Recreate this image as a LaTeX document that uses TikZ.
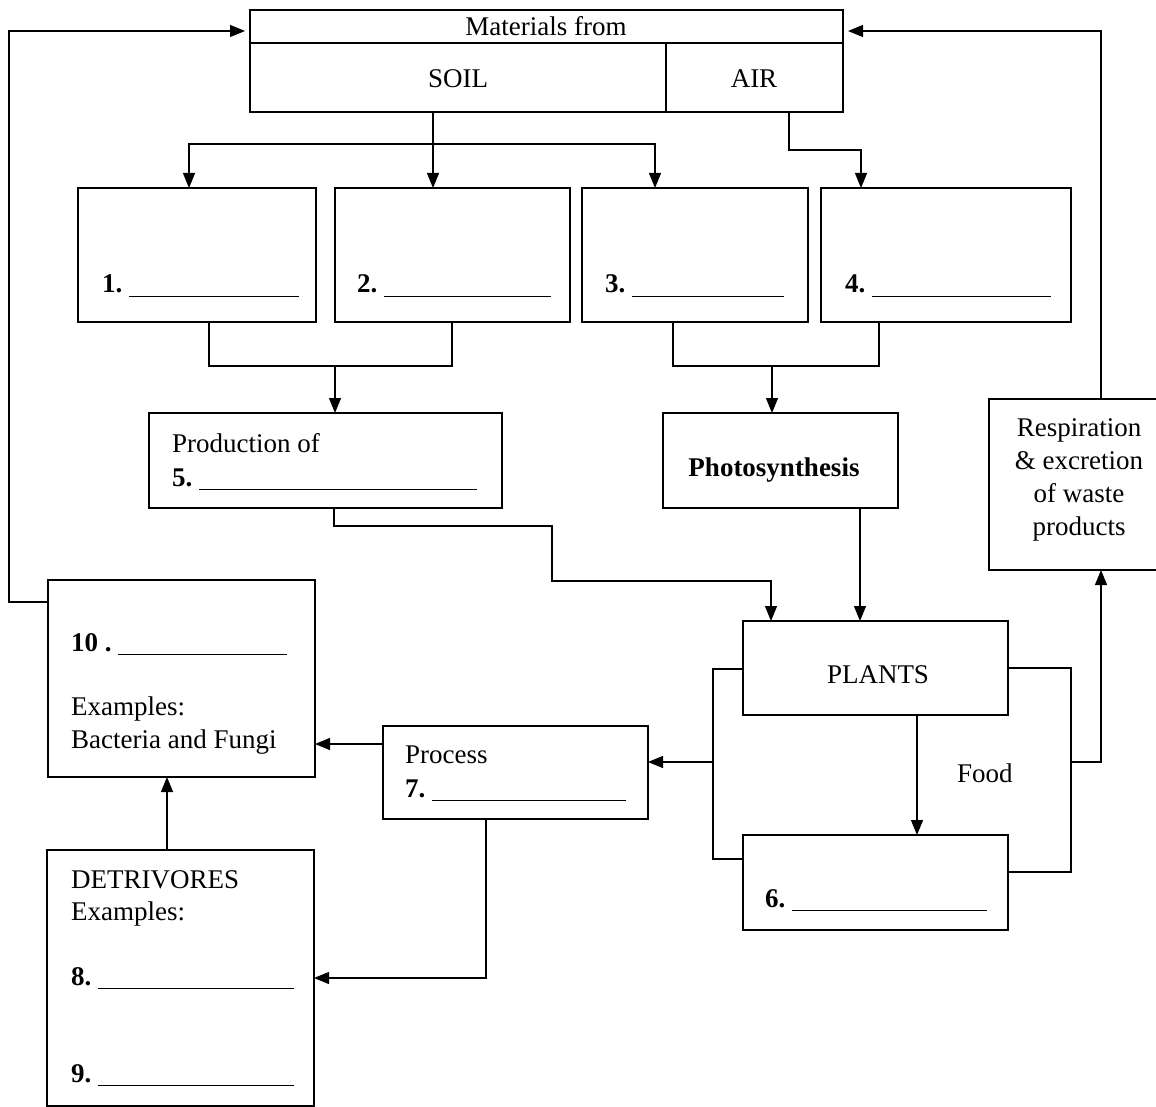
\documentclass[tikz,border=0pt]{standalone}
\usepackage{fontspec}
\setmainfont{Liberation Serif}
\usetikzlibrary{arrows.meta}
\newcommand\blankline[1]{\rule[-4pt]{#1pt}{1.3pt}}
\begin{document}
\begin{tikzpicture}[x=1pt,y=-1pt,
  box/.style={draw, line width=1.3pt, inner sep=0pt, outer sep=0pt, anchor=north west},
  con/.style={line width=1.2pt},
  arr/.style={con, -{Triangle[length=15pt,width=12pt]}},
  txt/.style={inner sep=0pt, anchor=base west, font=\fontsize{27}{33}\selectfont},
  ctxt/.style={txt, anchor=base},
]
\useasboundingbox (0,0) rectangle (1156,1107);
\fill[white] (0,0) rectangle (1156,1107);

% boxes
\node[box, minimum width=593pt, minimum height=102pt] (top) at (250,10) {};
\node[box, minimum width=238pt, minimum height=134pt] (b1) at (78,188) {};
\node[box, minimum width=235pt, minimum height=134pt] (b2) at (335,188) {};
\node[box, minimum width=226pt, minimum height=134pt] (b3) at (582,188) {};
\node[box, minimum width=250pt, minimum height=134pt] (b4) at (821,188) {};
\node[box, minimum width=353pt, minimum height=95pt] (b5) at (149,413) {};
\node[box, minimum width=235pt, minimum height=95pt] (photo) at (663,413) {};
\node[box, minimum width=200pt, minimum height=171pt] (resp) at (989,399) {};
\node[box, minimum width=265pt, minimum height=94pt] (plants) at (743,621) {};
\node[box, minimum width=265pt, minimum height=95pt] (b6) at (743,835) {};
\node[box, minimum width=267pt, minimum height=197pt] (b10) at (48,580) {};
\node[box, minimum width=265pt, minimum height=93pt] (proc) at (383,726) {};
\node[box, minimum width=267pt, minimum height=256pt] (detr) at (47,850) {};

% top box dividers
\draw[con] (top.west |- 0,43) -- (top.east |- 0,43);
\draw[con] (666,43) -- (666,0 |- top.south);

% texts
\node[ctxt] (tmat) at (546,36) {Materials from};
\node[ctxt] (tsoil) at (458,88) {SOIL};
\node[ctxt] (tair) at (754,88) {AIR};
\node[txt] (l1) at (102,293) {\textbf{1.}\ \blankline{170}};
\node[txt] (l2) at (357,293) {\textbf{2.}\ \blankline{167}};
\node[txt] (l3) at (605,293) {\textbf{3.}\ \blankline{152}};
\node[txt] (l4) at (845,293) {\textbf{4.}\ \blankline{179}};
\node[txt] (tprod) at (172,452) {Production of};
\node[txt] (l5) at (172,486) {\textbf{5.}\ \blankline{278}};
\node[ctxt] (tphoto) at (774,476) {\textbf{Photosynthesis}};
\node[ctxt, align=center] (tresp) at (1079,535) {Respiration\\\& excretion\\of waste\\products};
\node[ctxt] (tplants) at (878,683) {PLANTS};
\node[txt] (tfood) at (957,782) {Food};
\node[txt] (l6) at (765,907) {\textbf{6.}\ \blankline{195}};
\node[txt] (l10) at (71,651) {\textbf{10 .}\ \blankline{169}};
\node[txt] (tex1) at (71,715) {Examples:};
\node[txt] (tbac) at (71,748) {Bacteria and Fungi};
\node[txt] (tproc) at (405,763) {Process};
\node[txt] (l7) at (405,797) {\textbf{7.}\ \blankline{194}};
\node[txt] (tdet) at (71,888) {DETRIVORES};
\node[txt] (tex2) at (71,920) {Examples:};
\node[txt] (l8) at (71,985) {\textbf{8.}\ \blankline{196}};
\node[txt] (l9) at (71,1082) {\textbf{9.}\ \blankline{196}};

% connectors
\draw[arr, shorten >=5pt] (b10.west |- 0,602) -- (9,602) -- (9,31) -- (top.west |- 0,31);
\draw[arr, shorten >=5pt] (1101,0 |- resp.north) -- (1101,31) -- (top.east |- 0,31);
\draw[arr] (433,0 |- top.south) -- (433,0 |- b2.north);
\draw[arr] (433,144) -| (189,0 |- b1.north);
\draw[arr] (433,144) -| (655,0 |- b3.north);
\draw[arr] (789,0 |- top.south) |- (861,150) -- (861,0 |- b4.north);
\draw[con] (209,0 |- b1.south) -- (209,366) -- (452,366) -- (452,0 |- b2.south);
\draw[arr] (335,366) -- (335,0 |- b5.north);
\draw[con] (673,0 |- b3.south) -- (673,366) -- (879,366) -- (879,0 |- b4.south);
\draw[arr] (772,366) -- (772,0 |- photo.north);
\draw[arr] (334,0 |- b5.south) -- (334,526) -- (552,526) -- (552,581) -- (771,581) -- (771,0 |- plants.north);
\draw[arr] (860,0 |- photo.south) -- (860,0 |- plants.north);
\draw[con] (plants.west |- 0,669) -- (713,669) -- (713,859) -- (b6.west |- 0,859);
\draw[arr] (713,762) -- (proc.east |- 0,762);
\draw[con] (plants.east |- 0,668) -- (1071,668) -- (1071,872) -- (b6.east |- 0,872);
\draw[arr] (1071,762) -- (1101,762) -- (1101,0 |- resp.south);
\draw[arr] (917,0 |- plants.south) -- (917,0 |- b6.north);
\draw[arr] (proc.west |- 0,744) -- (b10.east |- 0,744);
\draw[arr] (486,0 |- proc.south) -- (486,978) -- (detr.east |- 0,978);
\draw[arr] (167,0 |- detr.north) -- (167,0 |- b10.south);
\end{tikzpicture}
\end{document}
